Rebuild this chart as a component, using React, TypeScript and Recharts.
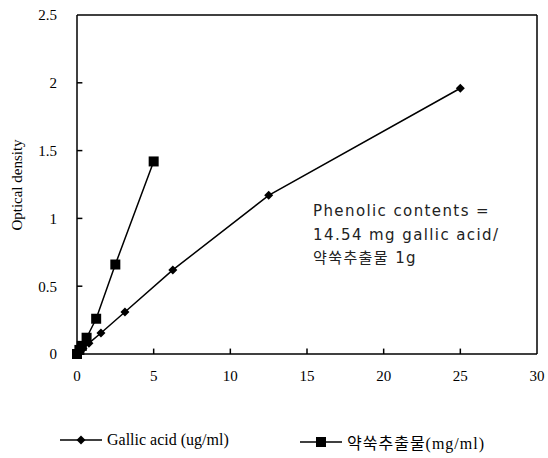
import React from 'react';
import { LineChart, Line, XAxis, YAxis, ReferenceLine } from 'recharts';

const gallicX = [0, 0.195, 0.39, 0.78, 1.5625, 3.125, 6.25, 12.5, 25];
const gallicY = [0, 0.02, 0.04, 0.08, 0.155, 0.31, 0.62, 1.17, 1.96];
const extractX = [0, 0.156, 0.3125, 0.625, 1.25, 2.5, 5];
const extractY = [0, 0.03, 0.06, 0.12, 0.26, 0.66, 1.42];
const xTicks = [0, 5, 10, 15, 20, 25, 30];
const yTicks = [0, 0.5, 1, 1.5, 2, 2.5];
const seriesNames = ['Gallic acid (ug/ml)', '약쑥추출물(mg/ml)'];
const noteLines = ['Phenolic contents =', '14.54 mg gallic acid/', '약쑥추출물 1g'];

const gallicData = gallicX.map((x, i) => ({ x, y: gallicY[i] }));
const extractData = extractX.map((x, i) => ({ x, y: extractY[i] }));

const serif = '"Liberation Serif", "Times New Roman", serif';
const tickFont = { fill: '#000', fontFamily: serif, fontSize: 15 };

const Diamond = (props: any) => {
  const { cx, cy, index } = props;
  const r = 4.5;
  return (
    <path
      key={`d-${index}`}
      d={`M${cx},${cy - r}L${cx + r},${cy}L${cx},${cy + r}L${cx - r},${cy}Z`}
      fill="#000"
    />
  );
};

const Square = (props: any) => {
  const { cx, cy, index } = props;
  const s = 5;
  return <rect key={`s-${index}`} x={cx - s} y={cy - s} width={s * 2} height={s * 2} fill="#000" />;
};

export default function App() {
  return (
    <div style={{ position: 'absolute', left: 0, top: 0, width: 548, height: 458, background: '#fff' }}>
      <LineChart width={548} height={458} margin={{ top: 15, right: 11, bottom: 64, left: 0 }}>
        <XAxis
          type="number"
          dataKey="x"
          domain={[0, 30]}
          ticks={xTicks}
          axisLine={{ stroke: '#000', strokeWidth: 1.5 }}
          tickLine={false}
          tickMargin={10}
          tick={tickFont}
          height={40}
        />
        <YAxis
          type="number"
          dataKey="y"
          domain={[0, 2.5]}
          ticks={yTicks}
          axisLine={{ stroke: '#000', strokeWidth: 1.5 }}
          tickLine={false}
          tickMargin={14}
          tick={tickFont}
          width={77}
        />
        <ReferenceLine y={2.5} stroke="#000" strokeWidth={1.5} />
        <ReferenceLine x={30} stroke="#000" strokeWidth={1.5} />
        {/* inward tick marks */}
        <ReferenceLine ifOverflow="visible" segment={[{ x: 5, y: 0 }, { x: 5, y: 0.04 }]} stroke="#000" strokeWidth={1.5} />
        <ReferenceLine ifOverflow="visible" segment={[{ x: 10, y: 0 }, { x: 10, y: 0.04 }]} stroke="#000" strokeWidth={1.5} />
        <ReferenceLine ifOverflow="visible" segment={[{ x: 15, y: 0 }, { x: 15, y: 0.04 }]} stroke="#000" strokeWidth={1.5} />
        <ReferenceLine ifOverflow="visible" segment={[{ x: 20, y: 0 }, { x: 20, y: 0.04 }]} stroke="#000" strokeWidth={1.5} />
        <ReferenceLine ifOverflow="visible" segment={[{ x: 25, y: 0 }, { x: 25, y: 0.04 }]} stroke="#000" strokeWidth={1.5} />
        <ReferenceLine ifOverflow="visible" segment={[{ x: 0, y: 0.5 }, { x: 0.35, y: 0.5 }]} stroke="#000" strokeWidth={1.5} />
        <ReferenceLine ifOverflow="visible" segment={[{ x: 0, y: 1 }, { x: 0.35, y: 1 }]} stroke="#000" strokeWidth={1.5} />
        <ReferenceLine ifOverflow="visible" segment={[{ x: 0, y: 1.5 }, { x: 0.35, y: 1.5 }]} stroke="#000" strokeWidth={1.5} />
        <ReferenceLine ifOverflow="visible" segment={[{ x: 0, y: 2 }, { x: 0.35, y: 2 }]} stroke="#000" strokeWidth={1.5} />
        <Line
          data={gallicData}
          dataKey="y"
          stroke="#000"
          strokeWidth={1.5}
          dot={Diamond}
          activeDot={false}
          isAnimationActive={false}
        />
        <Line
          data={extractData}
          dataKey="y"
          stroke="#000"
          strokeWidth={1.5}
          dot={Square}
          activeDot={false}
          isAnimationActive={false}
        />
      </LineChart>
      <div
        style={{
          position: 'absolute',
          left: 17,
          top: 185,
          transform: 'translate(-50%, -50%) rotate(-90deg)',
          fontFamily: serif,
          fontSize: 15,
          whiteSpace: 'nowrap',
        }}
      >
        Optical density
      </div>
      <div
        style={{
          position: 'absolute',
          left: 313,
          top: 200,
          fontFamily: '"DejaVu Sans", "Noto Sans CJK KR", sans-serif',
          fontSize: 15,
          letterSpacing: 1.4,
          lineHeight: '23.5px',
          color: '#222',
        }}
      >
        {noteLines.map((t) => (
          <div key={t} style={{ whiteSpace: 'nowrap' }}>{t}</div>
        ))}
      </div>
      {seriesNames.map((name, i) => (
        <div
          key={name}
          style={{
            position: 'absolute',
            left: i === 0 ? 60 : 300,
            top: 430,
            display: 'flex',
            alignItems: 'center',
            fontFamily: `${serif}, "Noto Sans CJK KR"`,
            fontSize: 16,
            whiteSpace: 'nowrap',
          }}
        >
          <svg width={42} height={20} style={{ marginRight: 5 }}>
            <line x1={0} y1={10} x2={42} y2={10} stroke="#000" strokeWidth={1.5} />
            {i === 0 ? (
              <path d="M21,5.5L25.5,10L21,14.5L16.5,10Z" fill="#000" />
            ) : (
              <rect x={16} y={5} width={10} height={10} fill="#000" />
            )}
          </svg>
          <span style={{ letterSpacing: i === 0 ? 0 : 1 }}>{name}</span>
        </div>
      ))}
    </div>
  );
}
